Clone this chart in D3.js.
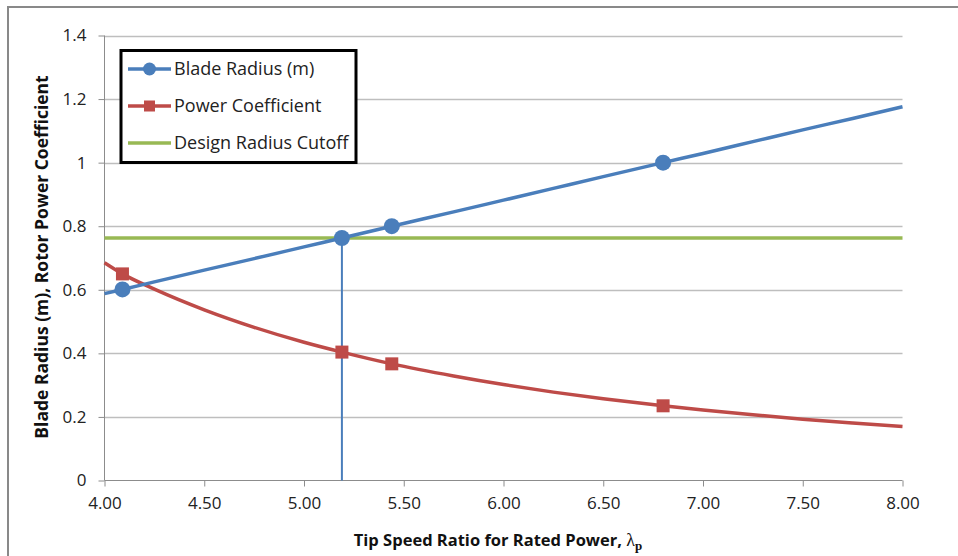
<!DOCTYPE html>
<html>
<head>
<meta charset="utf-8">
<script src="https://cdn.jsdelivr.net/npm/d3@7"></script>
<style>
  body { margin: 0; background: #fff; }
  svg { display: block; }
  text { font-family: "Open Sans", "Noto Sans", sans-serif; }
</style>
</head>
<body>
<script>
// tip speed ratio samples and values
var lambdaVals = [4.00, 4.09, 4.25, 4.50, 4.75, 5.00, 5.19, 5.44, 5.75, 6.00, 6.25, 6.50, 6.80, 7.00, 7.25, 7.50, 7.75, 8.00];
var radiusVals = [0.588, 0.601, 0.625, 0.662, 0.698, 0.735, 0.763, 0.800, 0.845, 0.882, 0.919, 0.956, 1.000, 1.029, 1.066, 1.103, 1.139, 1.176];
var cpVals     = [0.685, 0.650, 0.602, 0.537, 0.482, 0.435, 0.404, 0.367, 0.329, 0.302, 0.278, 0.257, 0.235, 0.222, 0.207, 0.193, 0.181, 0.170];

// marker points
var markLambda = [4.09, 5.19, 5.44, 6.80];
var markRadius = [0.601, 0.763, 0.800, 1.000];
var markCp     = [0.650, 0.404, 0.367, 0.235];

var cutoff = 0.763;
var cutoffLambda = 5.19;

var xTicks = [4.0, 4.5, 5.0, 5.5, 6.0, 6.5, 7.0, 7.5, 8.0];
var yTicks = [0, 0.2, 0.4, 0.6, 0.8, 1.0, 1.2, 1.4];

var seriesNames = ["Blade Radius (m)", "Power Coefficient", "Design Radius Cutoff"];
var colors = ["#4A7EBB", "#BE4B48", "#98B954"];

var width = 958, height = 556;
var mLeft = 104.5, mRight = 902.5, mTop = 35.5, mBottom = 480.5;

var svg = d3.select("body").append("svg")
    .attr("width", width)
    .attr("height", height);

// outer frame (only top + left visible)
svg.append("path")
    .attr("d", "M8,556 L8,7 L958,7")
    .attr("fill", "none")
    .attr("stroke", "#898989")
    .attr("stroke-width", 2);

var x = d3.scaleLinear().domain([4, 8]).range([mLeft, mRight]);
var y = d3.scaleLinear().domain([0, 1.4]).range([mBottom, mTop]);

// gridlines
svg.append("g")
    .selectAll("line")
    .data(yTicks.slice(1))
    .enter()
    .append("line")
    .attr("x1", mLeft).attr("x2", mRight)
    .attr("y1", d => Math.round(y(d)) + 0.5)
    .attr("y2", d => Math.round(y(d)) + 0.5)
    .attr("stroke", "#BEBEBE")
    .attr("stroke-width", 1.3);

// y axis
var yAxis = svg.append("g")
    .attr("transform", "translate(" + mLeft + ",0)")
    .call(d3.axisLeft(y).tickValues(yTicks).tickSize(6).tickPadding(12)
      .tickFormat(d => d === 0 ? "0" : String(+d.toFixed(1))));
yAxis.select(".domain").attr("stroke", "#8C8C8C").attr("d", "M0," + mTop + "V" + mBottom);
yAxis.selectAll(".tick line").attr("stroke", "#8C8C8C");
yAxis.selectAll(".tick text").attr("font-size", 17).attr("fill", "#222")
    .attr("font-family", "Open Sans");

// x axis
var xAxis = svg.append("g")
    .attr("transform", "translate(0," + mBottom + ")")
    .call(d3.axisBottom(x).tickValues(xTicks).tickSize(6).tickPadding(10)
      .tickFormat(d3.format(".2f")));
xAxis.select(".domain").attr("stroke", "#8C8C8C").attr("d", "M" + mLeft + ",0H" + mRight);
xAxis.selectAll(".tick line").attr("stroke", "#8C8C8C");
xAxis.selectAll(".tick text").attr("font-size", 17).attr("fill", "#222")
    .attr("font-family", "Open Sans");

// design cutoff line
svg.append("line")
    .attr("x1", x(4)).attr("x2", x(8))
    .attr("y1", y(cutoff)).attr("y2", y(cutoff))
    .attr("stroke", colors[2])
    .attr("stroke-width", 3.5);

// vertical marker line
svg.append("line")
    .attr("x1", x(cutoffLambda)).attr("x2", x(cutoffLambda))
    .attr("y1", y(cutoff)).attr("y2", y(0))
    .attr("stroke", colors[0])
    .attr("stroke-width", 2);

var line = d3.line().curve(d3.curveMonotoneX);

// power coefficient
svg.append("path")
    .attr("d", line(lambdaVals.map((l, i) => [x(l), y(cpVals[i])])))
    .attr("fill", "none")
    .attr("stroke", colors[1])
    .attr("stroke-width", 3.5);
svg.append("g")
    .selectAll("rect")
    .data(markLambda)
    .enter()
    .append("rect")
    .attr("x", (d, i) => x(d) - 6.5)
    .attr("y", (d, i) => y(markCp[i]) - 6.5)
    .attr("width", 13).attr("height", 13)
    .attr("fill", colors[1]);

// blade radius
svg.append("path")
    .attr("d", line(lambdaVals.map((l, i) => [x(l), y(radiusVals[i])])))
    .attr("fill", "none")
    .attr("stroke", colors[0])
    .attr("stroke-width", 3.5);
svg.append("g")
    .selectAll("circle")
    .data(markLambda)
    .enter()
    .append("circle")
    .attr("cx", d => x(d))
    .attr("cy", (d, i) => y(markRadius[i]))
    .attr("r", 8)
    .attr("fill", colors[0]);

// legend
var legend = svg.append("g");
legend.append("rect")
    .attr("x", 121).attr("y", 50.5)
    .attr("width", 235).attr("height", 112)
    .attr("fill", "#fff")
    .attr("stroke", "#000")
    .attr("stroke-width", 3);
var rows = [69, 106, 143];
seriesNames.forEach(function(name, i) {
    var g = legend.append("g");
    g.append("line")
      .attr("x1", 128).attr("x2", 171)
      .attr("y1", rows[i]).attr("y2", rows[i])
      .attr("stroke", colors[i])
      .attr("stroke-width", 3.5);
    if (i === 0) {
      g.append("circle").attr("cx", 149.5).attr("cy", rows[i]).attr("r", 6.5).attr("fill", colors[i]);
    } else if (i === 1) {
      g.append("rect").attr("x", 144).attr("y", rows[i] - 5.5).attr("width", 11).attr("height", 11).attr("fill", colors[i]);
    }
    g.append("text")
      .attr("x", 174)
      .attr("y", rows[i])
      .attr("dy", "0.35em")
      .attr("font-size", 18)
      .attr("fill", "#222")
      .text(name);
});

// axis titles
var xt = svg.append("text")
    .attr("x", 498)
    .attr("y", 546)
    .attr("text-anchor", "middle")
    .attr("font-size", 16.5)
    .attr("font-weight", "bold")
    .attr("fill", "#111");
xt.append("tspan").text("Tip Speed Ratio for Rated Power, ");
xt.append("tspan").attr("font-family", "Liberation Serif").attr("font-size", 18).attr("font-weight", "normal").text("λ");
xt.append("tspan").attr("font-family", "Liberation Serif").attr("font-size", 13).attr("dy", 4).text("p");

svg.append("text")
    .attr("transform", "translate(48,257) rotate(-90)")
    .attr("text-anchor", "middle")
    .attr("font-size", 17.5)
    .attr("font-weight", "bold")
    .attr("fill", "#111")
    .text("Blade Radius (m), Rotor Power Coefficient");
</script>
</body>
</html>
